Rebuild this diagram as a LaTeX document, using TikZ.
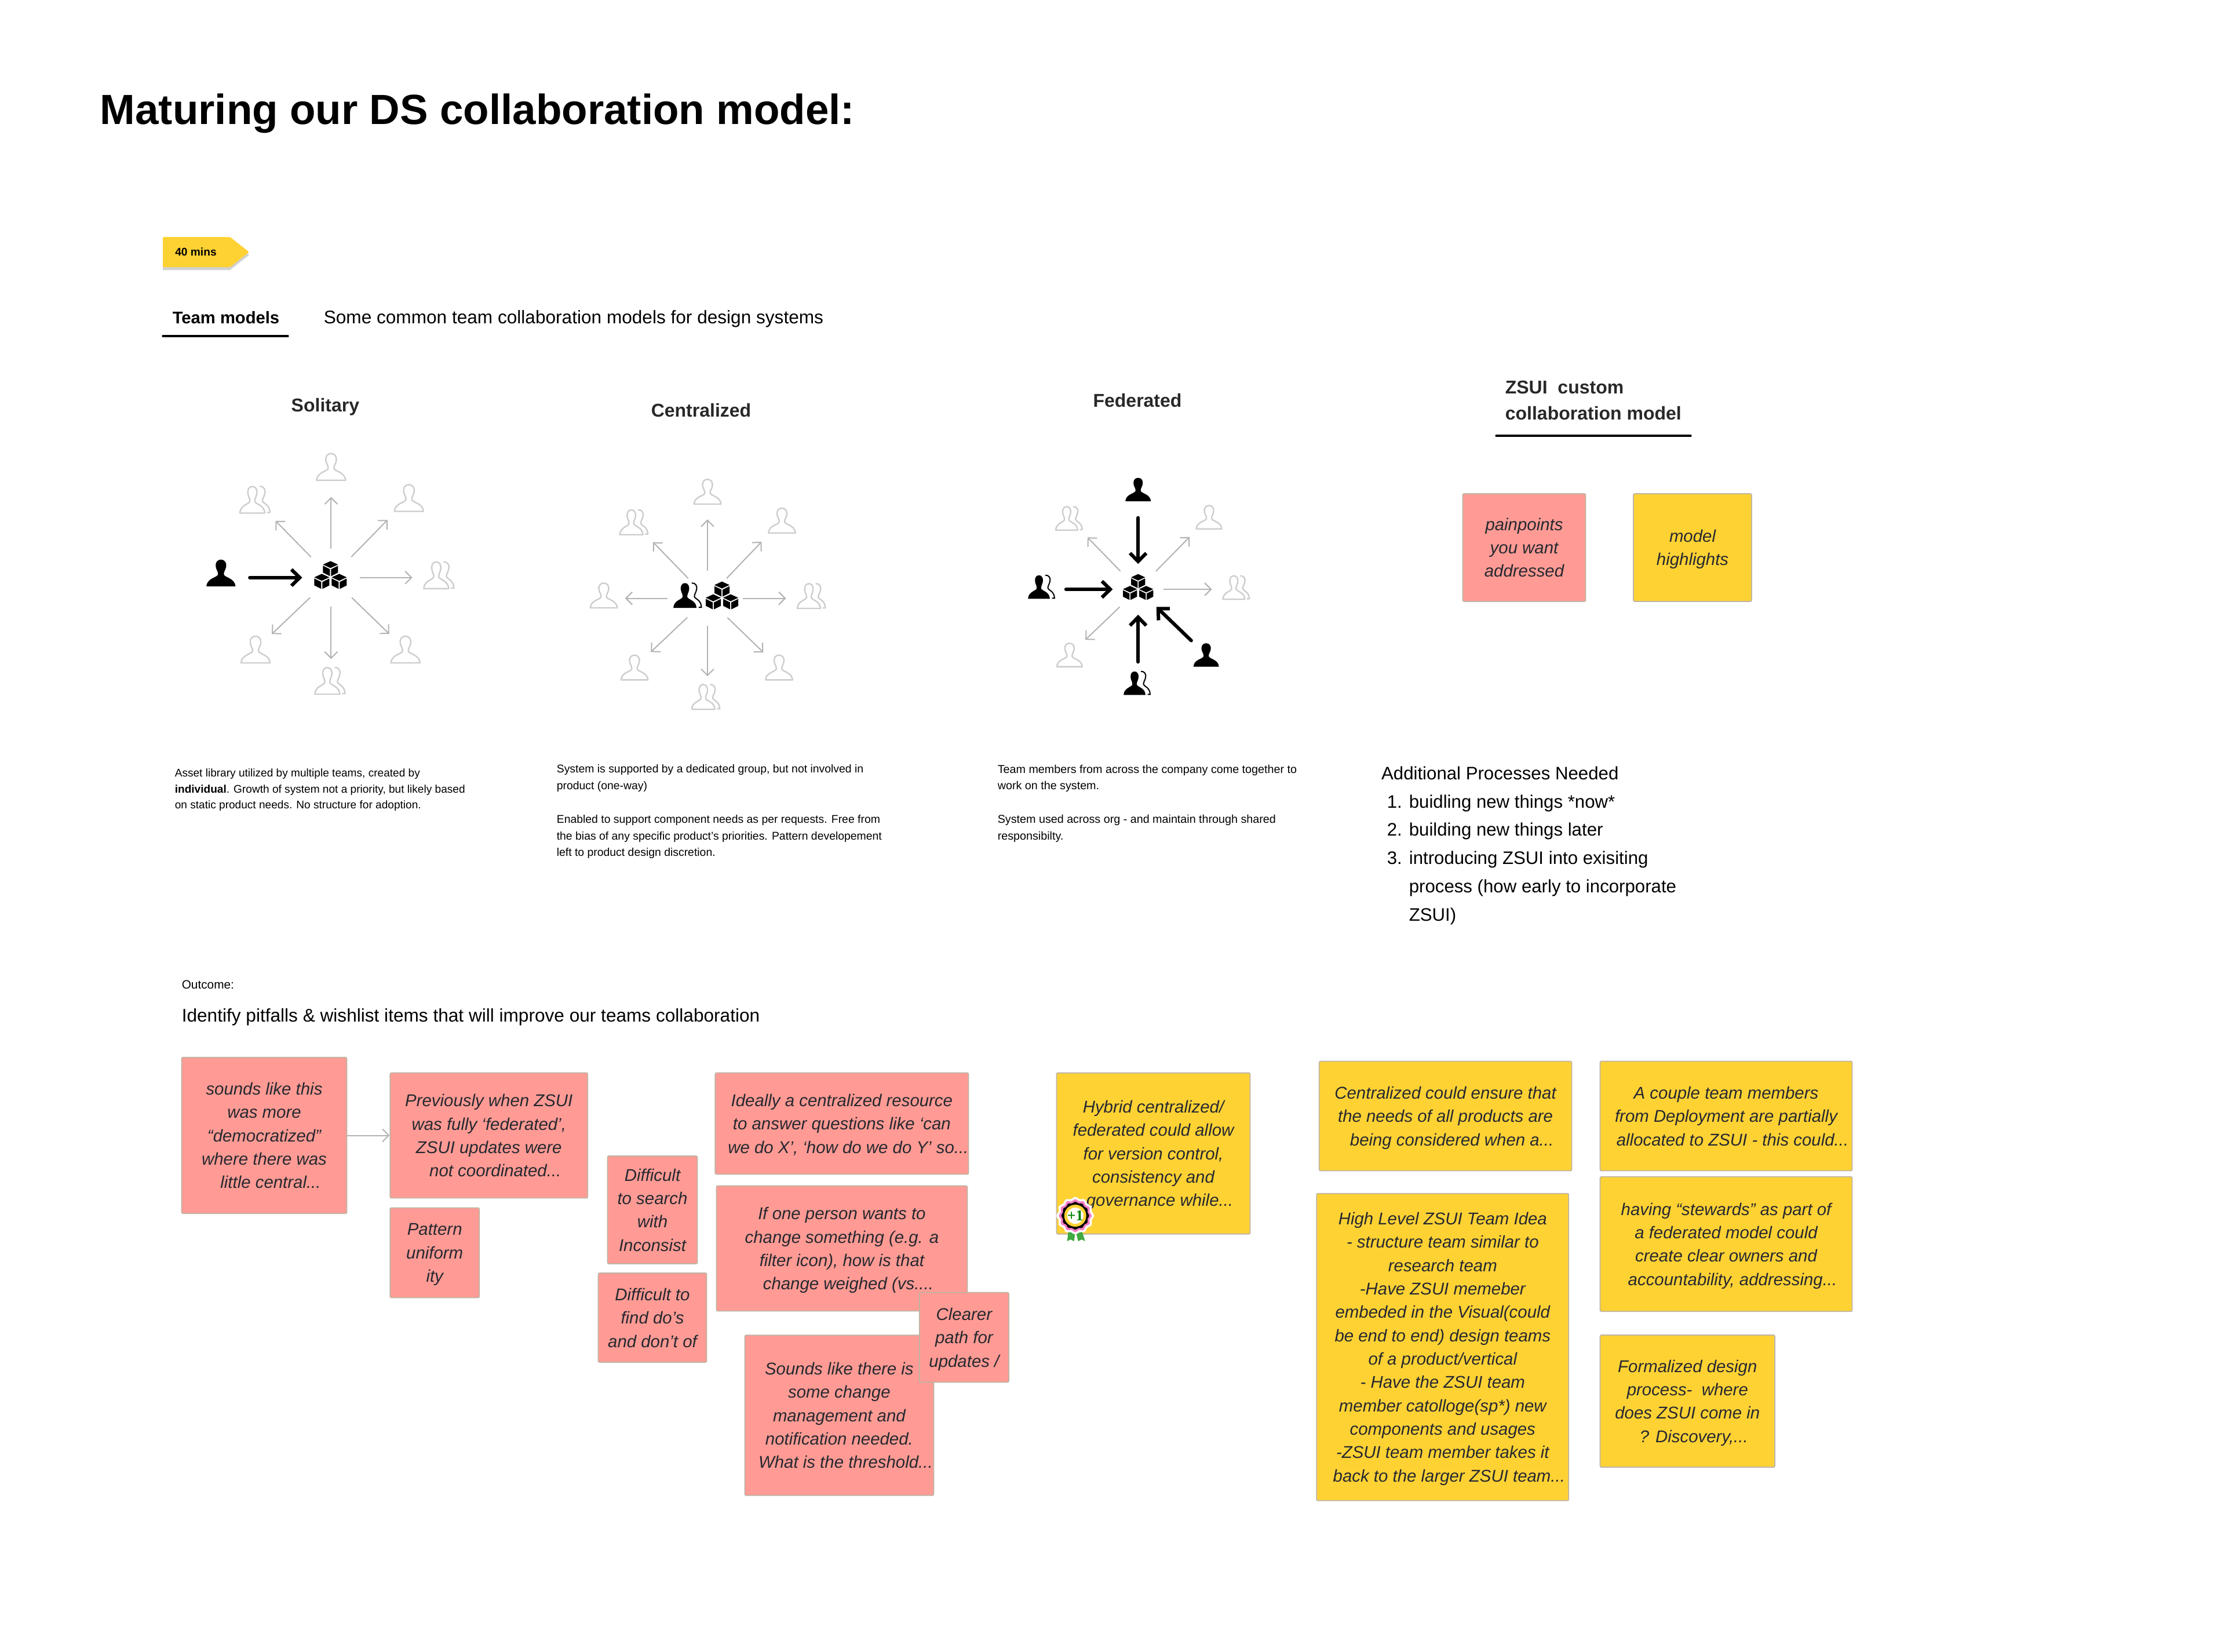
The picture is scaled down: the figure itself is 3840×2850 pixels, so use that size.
\documentclass[tikz,border=0pt]{standalone}
\usepackage{fontspec}
\setmainfont{Liberation Sans}
\newfontfamily\badgefont{Liberation Serif}
\usetikzlibrary{arrows.meta}

\definecolor{notepink}{RGB}{255,155,148}
\definecolor{noteyellow}{RGB}{255,210,52}
\definecolor{noteedge}{RGB}{190,180,165}
\definecolor{notetext}{RGB}{38,40,48}
\definecolor{headtext}{RGB}{40,40,42}
\definecolor{personline}{RGB}{205,205,205}
\definecolor{arrowline}{RGB}{178,178,178}

\newcommand{\personpath}{(0,23) .. controls (7,23) and (10,17) .. (9,11) .. controls (8,5) and (5,3) .. (5,-2) .. controls (5,-8) and (24,-8) .. (25,-23) -- (-25,-23) .. controls (-24,-8) and (-5,-8) .. (-5,-2) .. controls (-5,3) and (-8,5) .. (-9,11) .. controls (-10,17) and (-7,23) .. (0,23) -- cycle}
\newcommand{\rearpath}{(8,23) .. controls (15,24) and (19,17) .. (17,11) .. controls (16,5) and (13,3) .. (13,-2) .. controls (13,-6) and (26,-8) .. (26,-22) -- (21,-22)}
\newcommand{\cubepath}[2]{(#1,#2+13) -- (#1+13,#2+7) -- (#1,#2+1) -- (#1-13,#2+7) -- cycle (#1-13,#2+5) -- (#1-1,#2-1) -- (#1-1,#2-13) -- (#1-13,#2-7) -- cycle (#1+13,#2+5) -- (#1+1,#2-1) -- (#1+1,#2-13) -- (#1+13,#2-7) -- cycle}
\newcommand{\cuttail}{\hspace*{5.5pt}}

\tikzset{
  port/.style={circle,inner sep=0pt,minimum size={2*#1*0.25pt}},
  greyarrow/.style={draw=arrowline,line width=0.5pt,-{Straight Barb[length=2.75pt,width=5.5pt]}},
  boldarrow/.style={draw=black,line width=1.5pt,line cap=round,-{Straight Barb[length=3.6pt,width=7pt]}},
  greyone/.pic={\draw[personline,line width=0.6pt,line join=round] \personpath;},
  blackone/.pic={\fill[black] \personpath;},
  greytwo/.pic={\draw[personline,line width=0.6pt,line join=round] \rearpath;
    \draw[personline,line width=0.6pt,line join=round,shift={(-4.5,0)},xscale=.86] \personpath;},
  blacktwo/.pic={\draw[black,line width=0.5pt] \rearpath;
    \fill[black,shift={(-4.5,0)},xscale=.86] \personpath;},
  blocks/.pic={\fill[black] \cubepath{0}{11} \cubepath{-15}{-11} \cubepath{15}{-11};},
  note/.style 2 args={rectangle,rounded corners=0.6pt,draw=noteedge,line width=0.45pt,inner sep=0pt,align=center,text=notetext,
    font=\fontsize{7.35}{10.08}\selectfont\itshape,minimum width={#1*0.25pt},minimum height={#2*0.25pt},text depth=0pt},
  pinknote/.style 2 args={note={#1}{#2},fill=notepink},
  yellownote/.style 2 args={note={#1}{#2},fill=noteyellow},
  modelhead/.style={anchor=base,inner sep=0pt,text=headtext,font=\fontsize{8}{10}\selectfont\bfseries},
  blurb/.style={anchor=north west,inner sep=0pt,align=left},
  bodytext/.style={anchor=base west,inner sep=0pt,font=\fontsize{7.8}{10}\selectfont},
}

\begin{document}
\begin{tikzpicture}[x=0.25pt,y=0.25pt,yscale=-1,xscale=1]
\path[use as bounding box] (0,0) rectangle (3840,2850);

% Text Node
\draw (172,214) node (title) [anchor=base west][inner sep=0pt] [font=\fontsize{18.2}{22}\selectfont\bfseries] {Maturing our DS collaboration model:};

% Time tag
\fill [black!18] (281,414) -- (397,414) -- (430,440) -- (397,466) -- (281,466) -- cycle;
\fill [noteyellow,rounded corners=0.4pt] (281,409) -- (397,409) -- (430,435) -- (397,461) -- (281,461) -- cycle;
\draw (338,435) node (tagtext) [inner sep=0pt] [font=\fontsize{4.8}{5}\selectfont\bfseries] {40 mins};

% Text Node
\draw (297,558) node (teamtab) [bodytext] [font=\fontsize{7.3}{10}\selectfont\bfseries] {Team models};
\draw (558,558) node (teamintro) [bodytext] [font=\fontsize{7.9}{10}\selectfont] {Some common team collaboration models for design systems};
%Straight Lines
\draw [line width=0.8pt,line cap=round] (281,580) -- (497,580) ;

% Text Node
\draw (561.4,710) node (solhead) [modelhead] {Solitary};
\draw (1210,719) node (cenhead) [modelhead] {Centralized};
\draw (1963,702.5) node (fedhead) [modelhead] {Federated};
\draw (2597,656) node (zsuihead) [anchor=north west][inner sep=0pt] [align=left] [text=headtext] [font=\fontsize{8}{11.25}\selectfont\bfseries] {ZSUI\ \ custom\\collaboration model};
%Straight Lines
\draw [line width=0.8pt,line cap=round] (2582,752) -- (2918,752) ;

% Solitary model
\node [port=49] (solhub) at (571.4,996.8) {};
\pic at (570.4,992.3) {blocks};
\foreach \name/\x/\y/\r/\kind/\ix/\iy in {
  solN/571.4/805.8/51/greyone/571.4/805.8, solNE/705.7/859.5/52/greyone/705.7/859.5,
  solE/757.4/996.8/45/greytwo/757.4/992.8, solSE/699.7/1121/38/greyone/699.7/1121,
  solS/571.4/1175/37/greytwo/569.4/1175, solSW/441/1121/38/greyone/441/1121,
  solNW/440/862.5/50/greytwo/440/862.5, solW/381.3/996.8/49/blackone/381.3/988.8}
{
  \node [port=\r] (\name) at (\x,\y) {};
  \pic at (\ix,\iy) {\kind};
}
\foreach \p in {solN,solNE,solE,solSE,solS,solSW,solNW}
  \draw [greyarrow] (solhub) -- (\p);
\draw [boldarrow] (solW) -- (solhub);

% Centralized model
\node [port=47] (cenhub) at (1221,1032.6) {};
\pic at (1246,1027.6) {blocks};
\pic [scale=.93] at (1186.3,1027.6) {blacktwo};
\foreach \name/\x/\y/\r/\kind/\ix/\iy in {
  cenN/1221/848.6/47/greyone/1221/848.6, cenNE/1349.5/898.3/50/greyone/1349.5/898.3,
  cenE/1400.2/1032.6/43/greytwo/1400.2/1028.6, cenSE/1344.5/1152/37/greyone/1344.5/1152,
  cenS/1221/1202.7/35/greytwo/1218/1202.7, cenSW/1095/1152/38/greyone/1095/1152,
  cenW/1042/1032.6/36/greyone/1042/1027.6, cenNW/1093.8/901.3/47/greytwo/1093.8/901.3}
{
  \node [port=\r] (\name) at (\x,\y) {};
  \pic [scale=.93] at (\ix,\iy) {\kind};
}
\foreach \p in {cenN,cenNE,cenSE,cenS,cenSW,cenNW}
  \draw [greyarrow] (cenhub) -- (\p);
\draw [greyarrow,shorten <=3.25pt] (cenhub) -- (cenE);
\draw [greyarrow,shorten <=5.25pt] (cenhub) -- (cenW);

% Federated model
\node [port=43] (fedhub) at (1964.2,1017) {};
\pic [scale=.93] at (1964.2,1013) {blocks};
\foreach \name/\x/\y/\r/\kind/\ix/\iy in {
  fedN/1964.2/844.8/48/blackone/1964.2/844.8, fedNE/2086.5/892.6/47/greyone/2086.5/892.6,
  fedE/2133.3/1017/41/greytwo/2133.3/1014, fedSE/2081.6/1130.3/35/blackone/2081.6/1130.3,
  fedS/1964.2/1179/36/blacktwo/1962/1179, fedSW/1845.8/1130.3/37/greyone/1845.8/1130.3,
  fedW/1797/1017/42/blacktwo/1797/1013, fedNW/1844.8/894.6/45/greytwo/1844.8/894.6}
{
  \node [port=\r] (\name) at (\x,\y) {};
  \pic [scale=.88] at (\ix,\iy) {\kind};
}
\foreach \p in {fedNE,fedE,fedSW,fedNW}
  \draw [greyarrow] (fedhub) -- (\p);
\foreach \p in {fedN,fedSE,fedS,fedW}
  \draw [boldarrow] (\p) -- (fedhub);

% Text Node
\draw (301,1326) node (solblurb) [blurb] [font=\fontsize{4.77}{6.9}\selectfont] {Asset library utilized by multiple teams, created by\\\textbf{individual}. Growth of system not a priority, but likely based\\on static product needs. No structure for adoption.};
\draw (960,1319) node (cenblurb) [blurb] [font=\fontsize{4.85}{7.2}\selectfont] {System is supported by a dedicated group, but not involved in\\product (one-way)\\[7.2pt]Enabled to support component needs as per requests. Free from\\the bias of any specific product’s priorities. Pattern developement\\left to product design discretion.};
\draw (1721,1319) node (fedblurb) [blurb] [font=\fontsize{4.93}{7.2}\selectfont] {Team members from across the company come together to\\work on the system.\\[7.2pt]System used across org - and maintain through shared\\responsibilty.};

% Custom model notes
\node [pinknote={212}{186}] (painnote) at (2630.5,945) {painpoints\\you want\\addressed};
\node [yellownote={204}{186}] (modelnote) at (2921,945) {model\\highlights};

% Text Node
\draw (2383.3,1345.3) node (addhead) [bodytext] {Additional Processes Needed};
\foreach \name/\y/\num/\txt in {
  addA/1394/1./{buidling new things *now*},
  addB/1442.8/2./{building new things later},
  addC/1491.5/3./{introducing ZSUI into exisiting}}
{
  \draw (2393,\y) node (\name num) [bodytext] {\num};
  \draw (2431,\y) node (\name) [bodytext] {\txt};
}
\draw (2431,1540.3) node (addD) [bodytext] {process (how early to incorporate};
\draw (2431,1589) node (addE) [bodytext] {ZSUI)};

% Text Node
\draw (313,1706) node (outlabel) [bodytext] [font=\fontsize{5.2}{7}\selectfont] {Outcome:};
\draw (313,1763) node (outline) [bodytext] [font=\fontsize{7.9}{10}\selectfont] {Identify pitfalls \& wishlist items that will improve our teams collaboration};

% Pitfall notes
\node [pinknote={285}{269.5}] (soundsnote) at (456,1959.5) {sounds like this\\was more\\“democratized”\\where there was\\\cuttail little central...};
\node [pinknote={341}{216}] (prevnote) at (843.8,1959.5) {Previously when ZSUI\\was fully ‘federated’,\\ZSUI updates were\\\cuttail not coordinated...};
\draw [greyarrow] (soundsnote) -- (prevnote);
\node [pinknote={154}{155}] (patternnote) at (750.2,2162) {Pattern\\uniform\\ity};
\node [pinknote={155}{186}] (searchnote) at (1126,2088) {Difficult\\to search\\with\\Inconsist};
\node [pinknote={187}{154}] (findnote) at (1126,2274) {Difficult to\\find do’s\\and don’t of};
\node [pinknote={433}{175}] (idealnote) at (1452.9,1939) {Ideally a centralized resource\\to answer questions like ‘can\\\cuttail we do X’, ‘how do we do Y’ so...};
\node [pinknote={433}{216}] (changenote) at (1452.9,2154.5) {If one person wants to\\change something (e.g. a\\filter icon), how is that\\\cuttail change weighed (vs....};
\node [pinknote={326}{276.5}] (managenote) at (1448.4,2442.5) {Sounds like there is\\some change\\management and\\notification needed.\\\cuttail What is the threshold...};
\node [pinknote={154}{155}] (pathnote) at (1663.9,2308) {Clearer\\path for\\updates /};

% Wishlist notes
\node [yellownote={334}{278}] (hybridnote) at (1990.5,1990.6) {Hybrid centralized/\\federated could allow\\for version control,\\consistency and\\\cuttail governance while...};
\node [yellownote={435.6}{189}] (ensurenote) at (2494.6,1926) {Centralized could ensure that\\the needs of all products are\\\cuttail being considered when a...};
\node [yellownote={435}{189}] (couplenote) at (2979,1926) {A couple team members\\from Deployment are partially\\\cuttail allocated to ZSUI - this could...};
\node [yellownote={435}{530}] (highnote) at (2489.8,2324.7) {High Level ZSUI Team Idea\\- structure team similar to\\research team\\-Have ZSUI memeber\\embeded in the Visual(could\\be end to end) design teams\\of a product/vertical\\- Have the ZSUI team\\member catolloge(sp*) new\\components and usages\\-ZSUI team member takes it\\\cuttail back to the larger ZSUI team...};
\node [yellownote={435}{232.5}] (stewardnote) at (2979,2147) {having “stewards” as part of\\a federated model could\\create clear owners and\\\cuttail accountability, addressing...};
\node [yellownote={301.5}{228}] (formalnote) at (2912.3,2418) {Formalized design\\process-\ \ where\\does ZSUI come in\\\cuttail ? Discovery,...};

% Badge
\begin{scope}[shift={(1855.7,2098)}]
\fill [green!55!black!75!white] (-12,28) -- (-14,44) -- (-8,41) -- (-2,44) -- (0,28) -- cycle;
\fill [green!55!black!75!white] (1,28) -- (5,44) -- (11,41) -- (17,44) -- (12,28) -- cycle;
\fill [white] plot [domain=0:360,samples=73,smooth] (\x:{31+1.5*cos(12*\x)}) -- cycle;
\fill [magenta!50!white] plot [domain=0:360,samples=73,smooth] (\x:{27+1.5*cos(12*\x)}) -- cycle;
\fill [black] plot [domain=0:360,samples=73,smooth] (\x:{23+1*cos(12*\x)}) -- cycle;
\fill [noteyellow] (0,0) circle [radius=19];
\fill [white] (0,0) circle [radius=14];
\draw (0,0) node (plusone) [inner sep=0pt] [text=green!50!black] [font=\fontsize{6.5}{7}\badgefont\bfseries] {+1};
\end{scope}

\end{tikzpicture}
\end{document}
